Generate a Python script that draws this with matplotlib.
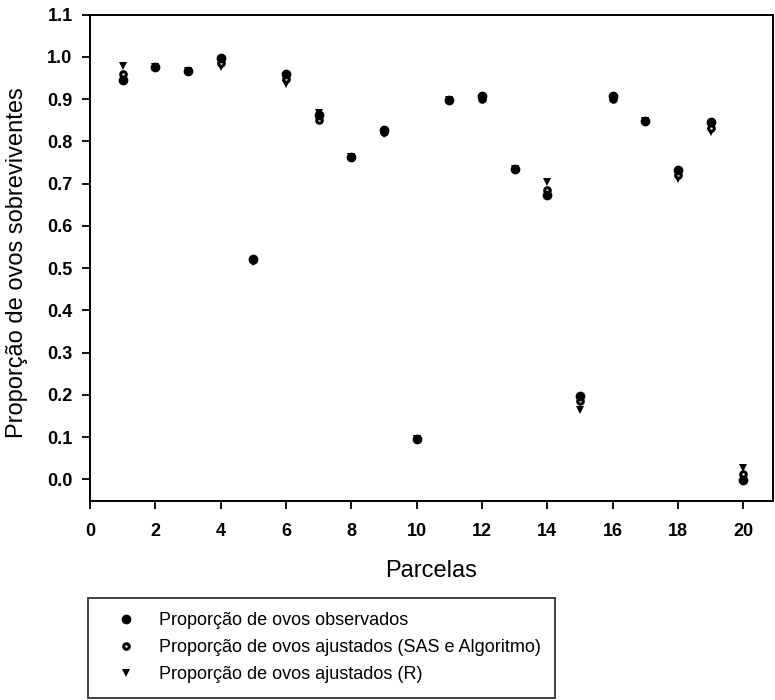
import matplotlib
matplotlib.use("Agg")
import matplotlib.pyplot as plt

plt.rcParams['font.family'] = ['Liberation Sans', 'DejaVu Sans']

parcelas = list(range(1, 21))
observados = [0.945, 0.977, 0.967, 0.998, 0.521, 0.960, 0.862, 0.763, 0.826, 0.095,
              0.898, 0.908, 0.734, 0.672, 0.198, 0.908, 0.849, 0.732, 0.845, -0.002]
ajustados_sas = [0.959, 0.977, 0.967, 0.985, 0.518, 0.947, 0.850, 0.763, 0.822, 0.095,
                 0.898, 0.900, 0.734, 0.686, 0.185, 0.900, 0.849, 0.720, 0.832, 0.012]
ajustados_r = [0.978, 0.977, 0.967, 0.975, 0.515, 0.935, 0.867, 0.763, 0.818, 0.095,
               0.898, 0.900, 0.734, 0.704, 0.165, 0.900, 0.849, 0.712, 0.822, 0.027]

labels = ['Proporção de ovos observados',
          'Proporção de ovos ajustados (SAS e Algoritmo)',
          'Proporção de ovos ajustados (R)']
xticks = list(range(0, 21, 2))
yticks = [round(0.1 * i, 1) for i in range(0, 12)]

fig = plt.figure(figsize=(7.75, 7.0), dpi=100)
ax = fig.add_axes([0.116, 0.284, 0.881, 0.695])

h3, = ax.plot(parcelas, ajustados_r, linestyle='none', marker='v', ms=5.6, mew=0,
              color='black', label=labels[2], zorder=3)
h2, = ax.plot(parcelas, ajustados_sas, linestyle='none', marker='o', ms=4.0,
              markerfacecolor='white', markeredgecolor='black', mew=2.2,
              label=labels[1], zorder=4)
h1, = ax.plot(parcelas, observados, linestyle='none', marker='o', ms=6,
              color='black', label=labels[0], zorder=5)

ax.set_xlim(0, 20.9)
ax.set_ylim(-0.052, 1.1)
ax.set_xticks(xticks)
ax.set_yticks(yticks)
ax.set_yticklabels([f"{v:.1f}" for v in yticks])
ax.tick_params(axis='both', direction='out', length=5.5, width=1.3, labelsize=13)
ax.tick_params(axis='x', pad=10)
ax.tick_params(axis='y', pad=7)
for lab in ax.get_xticklabels() + ax.get_yticklabels():
    lab.set_fontweight('bold')
for s in ax.spines.values():
    s.set_linewidth(1.4)

ax.set_xlabel('Parcelas', fontsize=17)
ax.set_ylabel('Proporção de ovos sobreviventes', fontsize=17)
ax.xaxis.set_label_coords(0.5, -0.121)
ax.yaxis.set_label_coords(-0.09, 0.49)

leg = fig.legend(handles=[h1, h2, h3], labels=labels, loc='upper left',
                 bbox_to_anchor=(0.114, 0.146), fontsize=13, frameon=True,
                 fancybox=False, edgecolor='black', handlelength=2.6,
                 handletextpad=0.5, borderpad=0.8, labelspacing=0.55,
                 borderaxespad=0.0)
leg.get_frame().set_linewidth(1.3)

fig.savefig('out.png', dpi=100)
